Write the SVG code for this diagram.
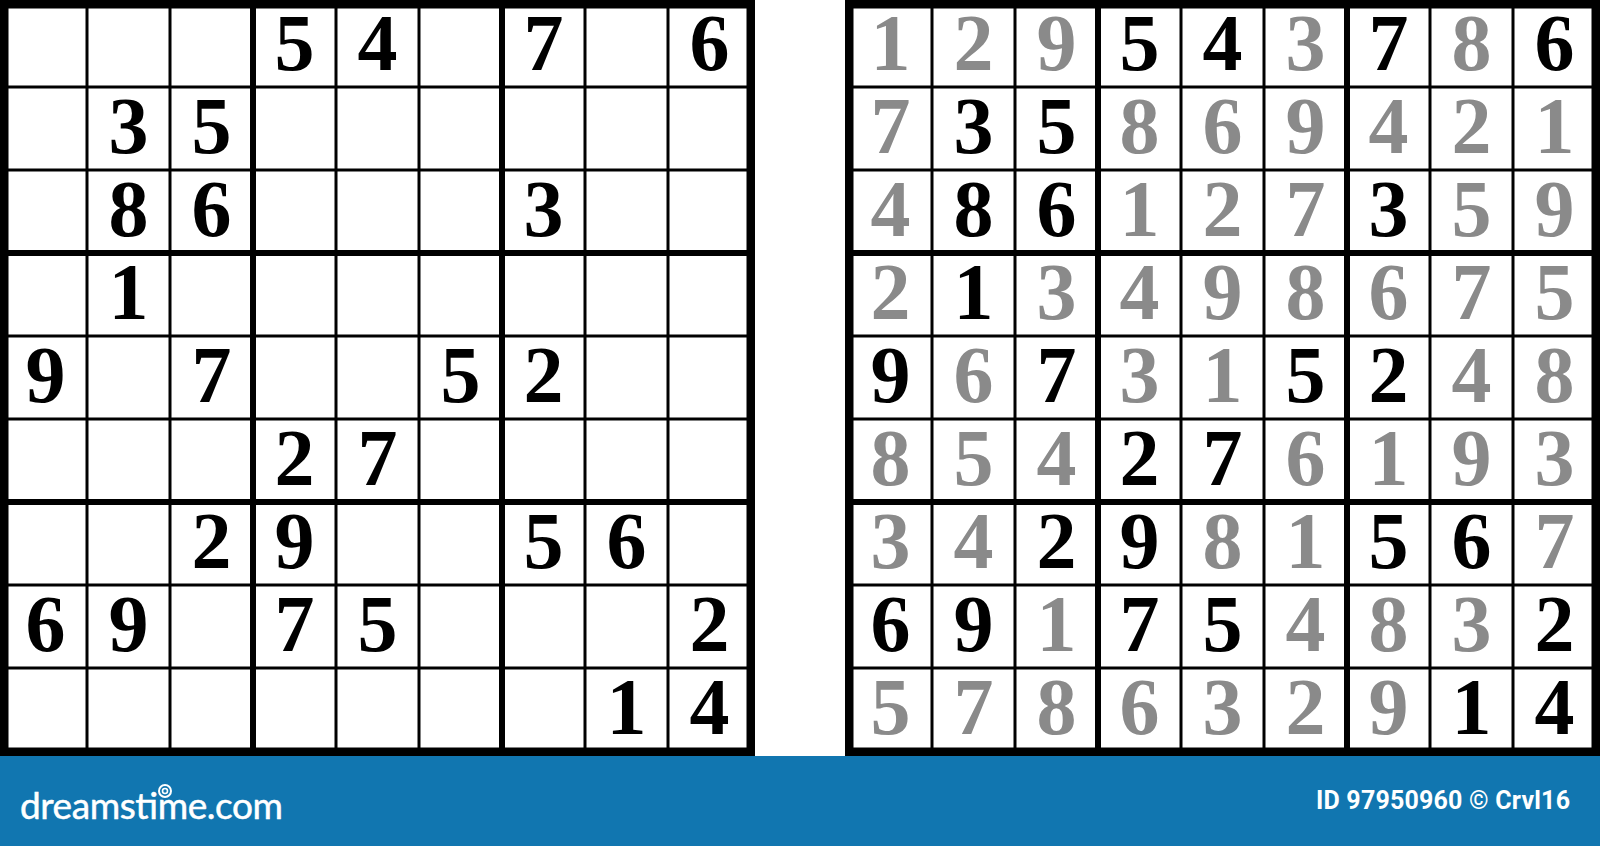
<svg xmlns="http://www.w3.org/2000/svg" width="1600" height="846" viewBox="0 0 1600 846">
<style>
.d{font-family:"Liberation Serif","DejaVu Serif",serif;font-weight:bold;font-size:80px;text-anchor:middle}
.g{fill:#000}
.s{fill:#8a8a8a}
.thin{stroke:#000;stroke-width:3;fill:none}
.thick{stroke:#000;stroke-width:6;fill:none}
.outer{stroke:#000;stroke-width:8.5;fill:none}
.ft{fill:#fff}
</style>
<defs>
<g id="lines">
<path class="thin" d="M87 4V751M170 4V751M336 4V751M419 4V751M585 4V751M668 4V751M4 87H751M4 170H751M4 336H751M4 419H751M4 585H751M4 668H751"/>
<path class="thick" d="M253 4V751M502 4V751M4 253H751M4 502H751"/>
<rect class="outer" x="4.25" y="4.25" width="746.5" height="747.5"/>
</g>
</defs>
<rect width="1600" height="846" fill="#fff"/>
<g id="puzzle">
<use href="#lines"/>
<g class="d g">
<text x="294.5" y="69.5">5</text><text x="377.5" y="69.5">4</text><text x="543.5" y="69.5">7</text><text x="709.5" y="69.5">6</text>
<text x="128.5" y="152.5">3</text><text x="211.5" y="152.5">5</text>
<text x="128.5" y="235.5">8</text><text x="211.5" y="235.5">6</text><text x="543.5" y="235.5">3</text>
<text x="128.5" y="318.5">1</text>
<text x="45.5" y="401.5">9</text><text x="211.5" y="401.5">7</text><text x="460.5" y="401.5">5</text><text x="543.5" y="401.5">2</text>
<text x="294.5" y="484.5">2</text><text x="377.5" y="484.5">7</text>
<text x="211.5" y="567.5">2</text><text x="294.5" y="567.5">9</text><text x="543.5" y="567.5">5</text><text x="626.5" y="567.5">6</text>
<text x="45.5" y="650.5">6</text><text x="128.5" y="650.5">9</text><text x="294.5" y="650.5">7</text><text x="377.5" y="650.5">5</text><text x="709.5" y="650.5">2</text>
<text x="626.5" y="733.5">1</text><text x="709.5" y="733.5">4</text>
</g>
</g>
<g id="solution">
<use href="#lines" x="845"/>
<g class="d">
<text class="s" x="890.5" y="69.5">1</text><text class="s" x="973.5" y="69.5">2</text><text class="s" x="1056.5" y="69.5">9</text><text class="g" x="1139.5" y="69.5">5</text><text class="g" x="1222.5" y="69.5">4</text><text class="s" x="1305.5" y="69.5">3</text><text class="g" x="1388.5" y="69.5">7</text><text class="s" x="1471.5" y="69.5">8</text><text class="g" x="1554.5" y="69.5">6</text>
<text class="s" x="890.5" y="152.5">7</text><text class="g" x="973.5" y="152.5">3</text><text class="g" x="1056.5" y="152.5">5</text><text class="s" x="1139.5" y="152.5">8</text><text class="s" x="1222.5" y="152.5">6</text><text class="s" x="1305.5" y="152.5">9</text><text class="s" x="1388.5" y="152.5">4</text><text class="s" x="1471.5" y="152.5">2</text><text class="s" x="1554.5" y="152.5">1</text>
<text class="s" x="890.5" y="235.5">4</text><text class="g" x="973.5" y="235.5">8</text><text class="g" x="1056.5" y="235.5">6</text><text class="s" x="1139.5" y="235.5">1</text><text class="s" x="1222.5" y="235.5">2</text><text class="s" x="1305.5" y="235.5">7</text><text class="g" x="1388.5" y="235.5">3</text><text class="s" x="1471.5" y="235.5">5</text><text class="s" x="1554.5" y="235.5">9</text>
<text class="s" x="890.5" y="318.5">2</text><text class="g" x="973.5" y="318.5">1</text><text class="s" x="1056.5" y="318.5">3</text><text class="s" x="1139.5" y="318.5">4</text><text class="s" x="1222.5" y="318.5">9</text><text class="s" x="1305.5" y="318.5">8</text><text class="s" x="1388.5" y="318.5">6</text><text class="s" x="1471.5" y="318.5">7</text><text class="s" x="1554.5" y="318.5">5</text>
<text class="g" x="890.5" y="401.5">9</text><text class="s" x="973.5" y="401.5">6</text><text class="g" x="1056.5" y="401.5">7</text><text class="s" x="1139.5" y="401.5">3</text><text class="s" x="1222.5" y="401.5">1</text><text class="g" x="1305.5" y="401.5">5</text><text class="g" x="1388.5" y="401.5">2</text><text class="s" x="1471.5" y="401.5">4</text><text class="s" x="1554.5" y="401.5">8</text>
<text class="s" x="890.5" y="484.5">8</text><text class="s" x="973.5" y="484.5">5</text><text class="s" x="1056.5" y="484.5">4</text><text class="g" x="1139.5" y="484.5">2</text><text class="g" x="1222.5" y="484.5">7</text><text class="s" x="1305.5" y="484.5">6</text><text class="s" x="1388.5" y="484.5">1</text><text class="s" x="1471.5" y="484.5">9</text><text class="s" x="1554.5" y="484.5">3</text>
<text class="s" x="890.5" y="567.5">3</text><text class="s" x="973.5" y="567.5">4</text><text class="g" x="1056.5" y="567.5">2</text><text class="g" x="1139.5" y="567.5">9</text><text class="s" x="1222.5" y="567.5">8</text><text class="s" x="1305.5" y="567.5">1</text><text class="g" x="1388.5" y="567.5">5</text><text class="g" x="1471.5" y="567.5">6</text><text class="s" x="1554.5" y="567.5">7</text>
<text class="g" x="890.5" y="650.5">6</text><text class="g" x="973.5" y="650.5">9</text><text class="s" x="1056.5" y="650.5">1</text><text class="g" x="1139.5" y="650.5">7</text><text class="g" x="1222.5" y="650.5">5</text><text class="s" x="1305.5" y="650.5">4</text><text class="s" x="1388.5" y="650.5">8</text><text class="s" x="1471.5" y="650.5">3</text><text class="g" x="1554.5" y="650.5">2</text>
<text class="s" x="890.5" y="733.5">5</text><text class="s" x="973.5" y="733.5">7</text><text class="s" x="1056.5" y="733.5">8</text><text class="s" x="1139.5" y="733.5">6</text><text class="s" x="1222.5" y="733.5">3</text><text class="s" x="1305.5" y="733.5">2</text><text class="s" x="1388.5" y="733.5">9</text><text class="g" x="1471.5" y="733.5">1</text><text class="g" x="1554.5" y="733.5">4</text>
</g>
</g>
<g id="footer">
<rect x="0" y="756" width="1600" height="90" fill="#1176b0"/>
<text class="ft" x="20" y="819" font-family="Lato,'Noto Sans',sans-serif" font-size="37" textLength="263" lengthAdjust="spacing" stroke="#fff" stroke-width="0.5">dreamstime.com</text>
<circle cx="165" cy="791" r="6" fill="none" stroke="#fff" stroke-width="2"/>
<circle cx="165" cy="791" r="2.5" fill="none" stroke="#fff" stroke-width="1.6"/>
<text class="ft" x="1316" y="809" font-family="Roboto,'Liberation Sans',sans-serif" font-weight="bold" font-size="25" textLength="254" lengthAdjust="spacing">ID 97950960 © Crvl16</text>
</g>
</svg>
